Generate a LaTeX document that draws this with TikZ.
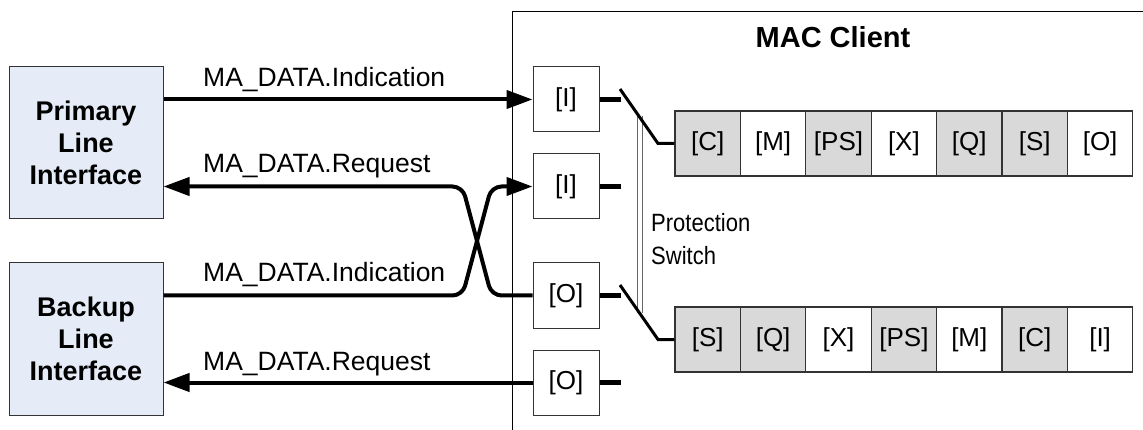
\documentclass[tikz,border=0pt]{standalone}
\usepackage{fontspec}
\setmainfont{Liberation Sans}
\newfontfamily\narrowfont[FakeStretch=0.88]{Liberation Sans}
\usetikzlibrary{arrows.meta}
\definecolor{lifill}{HTML}{E6ECF7}
\definecolor{cellgray}{HTML}{D9D9D9}
\definecolor{edge}{HTML}{333333}
\tikzset{
 libox/.style={draw=edge, line width=1pt, fill=lifill, minimum width=154pt, minimum height=152pt, inner sep=0pt, align=center, font=\fontsize{27}{32}\selectfont\bfseries},
 pbox/.style={draw=edge, line width=1pt, fill=white, minimum width=66pt, minimum height=65pt, inner sep=0pt, font=\fontsize{26}{30}\selectfont},
 gcell/.style={draw=edge, line width=1.3pt, fill=cellgray, minimum width=65.4pt, minimum height=65pt, inner sep=0pt, font=\fontsize{26}{30}\selectfont},
 wcell/.style={gcell, fill=white},
 sig/.style={line width=4pt, -{Triangle[length=26pt,width=18pt]}},
 stubline/.style={line width=5pt},
 swline/.style={line width=3pt},
 lbl/.style={anchor=base west, inner sep=0pt, font=\fontsize{26.5}{30}\selectfont},
 protlbl/.style={anchor=base west, inner sep=0pt, font=\narrowfont\fontsize{25}{30}\selectfont},
}
\begin{document}
\begin{tikzpicture}[x=1pt, y=-1pt]
\useasboundingbox (0,0) rectangle (1143,430);

% MAC client frame (clipped at right and bottom)
\coordinate (mtr) at (1143,12);
\coordinate (mtl) at (512,12);
\coordinate (mbl) at (512,430);
\draw[line width=1pt] (mtr) -- (mtl) -- (mbl);
\node[anchor=base, inner sep=0pt, font=\fontsize{29}{34}\selectfont\bfseries] (title) at (833,48) {MAC Client};

% line interfaces
\node[libox] (pli) at (86,143) {Primary\\Line\\Interface};
\node[libox] (bli) at (86,339) {Backup\\Line\\Interface};

% port boxes
\node[pbox] (i1) at (566,99.5) {[I]};
\node[pbox] (i2) at (566,186.5) {[I]};
\node[pbox] (o1) at (566,295.5) {[O]};
\node[pbox] (o2) at (566,382.5) {[O]};

% queues
\node[gcell] (q1) at (707.7,143.5) {[C]};
\node[wcell] (q2) at (773.1,143.5) {[M]};
\node[gcell] (q3) at (838.5,143.5) {[PS]};
\node[wcell] (q4) at (903.9,143.5) {[X]};
\node[gcell] (q5) at (969.3,143.5) {[Q]};
\node[gcell] (q6) at (1034.7,143.5) {[S]};
\node[wcell] (q7) at (1100.1,143.5) {[O]};

\node[gcell] (r1) at (707.7,339.5) {[S]};
\node[gcell] (r2) at (773.1,339.5) {[Q]};
\node[wcell] (r3) at (838.5,339.5) {[X]};
\node[gcell] (r4) at (903.9,339.5) {[PS]};
\node[wcell] (r5) at (969.3,339.5) {[M]};
\node[gcell] (r6) at (1034.7,339.5) {[C]};
\node[wcell] (r7) at (1100.1,339.5) {[I]};

% signal arrows
\draw[sig] (pli.east |- i1.west) -- (i1.west);
\draw[sig, rounded corners=10pt] (o1.west) -- (491.5,295.5) -- (462.5,186.5) -- (pli.east |- i2.west);
\draw[sig, rounded corners=10pt] (bli.east |- o1.west) -- (462.5,295.5) -- (491.5,186.5) -- (i2.west);
\draw[sig] (o2.west) -- (bli.east |- o2.west);

\node[lbl] (l1) at (203,87) {MA\_DATA.Indication};
\node[lbl] (l2) at (203,173) {MA\_DATA.Request};
\node[lbl] (l3) at (203,282) {MA\_DATA.Indication};
\node[lbl] (l4) at (203,370) {MA\_DATA.Request};

% stubs
\coordinate (s1) at (621,99.5);
\coordinate (s2) at (621,186.5);
\coordinate (s3) at (621,295.5);
\coordinate (s4) at (621,382.5);
\draw[stubline] (i1.east) -- (s1);
\draw[stubline] (i2.east) -- (s2);
\draw[stubline] (o1.east) -- (s3);
\draw[stubline] (o2.east) -- (s4);

% protection switch linkage
\coordinate (pa) at (640,116);
\coordinate (pb) at (640,313);
\draw[draw=gray!80!black, line width=1pt, double=white, double distance=3.5pt] (pa) -- (pb);
\node[protlbl] (pt1) at (651,232) {Protection};
\node[protlbl] (pt2) at (651,265) {Switch};

% switch blades
\coordinate (sw1) at (620,89);
\coordinate (sw1k) at (658,143.5);
\coordinate (sw2) at (620,285);
\coordinate (sw2k) at (658,339.5);
\draw[swline] (sw1) -- (sw1k) -- (q1.west);
\draw[swline] (sw2) -- (sw2k) -- (r1.west);
\end{tikzpicture}
\end{document}
